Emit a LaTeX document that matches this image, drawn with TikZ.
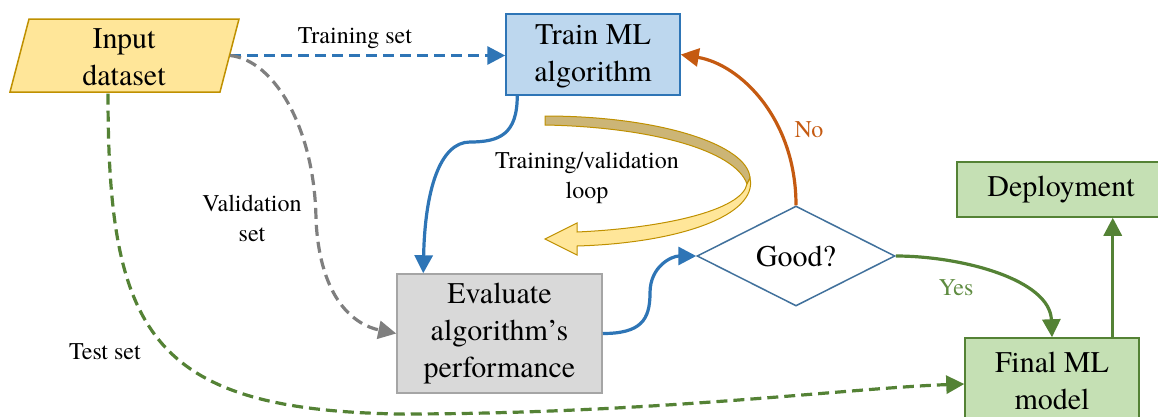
\documentclass[tikz,border=0pt]{standalone}
\usepackage{fontspec}
\setmainfont{TeX Gyre Termes}
\usetikzlibrary{arrows.meta,shapes.geometric}
\definecolor{inFill}{HTML}{FFE699}
\definecolor{inLine}{HTML}{BF9000}
\definecolor{trFill}{HTML}{BDD7EE}
\definecolor{trLine}{HTML}{2E75B6}
\definecolor{evFill}{HTML}{D9D9D9}
\definecolor{evLine}{HTML}{A5A5A5}
\definecolor{grayArr}{HTML}{7F7F7F}
\definecolor{dmLine}{HTML}{41719C}
\definecolor{orArr}{HTML}{C55A11}
\definecolor{gnFill}{HTML}{C5E0B4}
\definecolor{gnLine}{HTML}{548235}
\definecolor{yesCol}{HTML}{5F8C41}
\definecolor{tanFill}{HTML}{CCB576}
\begin{document}
\begin{tikzpicture}[x=1pt,y=-1pt,
  boxtext/.style={font=\fontsize{30}{37}\selectfont, align=center, inner sep=0pt},
  box/.style={boxtext, draw, line width=1.5pt, rectangle},
  lbl/.style={font=\fontsize{24}{30}\selectfont, align=center, inner sep=0pt},
  conn/.style={line width=3.2pt},
  tip/.style={-{Triangle[length=18pt,width=18pt]}},
  dsh/.style={dash pattern=on 11pt off 6pt},
]
\useasboundingbox (0,0) rectangle (1158,416);

% input parallelogram
\filldraw[fill=inFill, draw=inLine, line width=1.5pt] (29,19) -- (239,19) -- (220,92) -- (10,92) -- cycle;
\node[boxtext, minimum width=212pt, minimum height=73pt] (in) at (124,57) {Input\\dataset};

\node[box, fill=trFill, draw=trLine, minimum width=174pt, minimum height=81pt, text depth=2pt] (train) at (593,54.5) {Train ML\\algorithm};
\node[box, fill=evFill, draw=evLine, minimum width=205pt, minimum height=119pt] (eval) at (499.5,333.5) {Evaluate\\algorithm’s\\performance};
\node[boxtext, diamond, draw=dmLine, line width=1.5pt, fill=white, minimum width=198pt, minimum height=100pt, aspect=2] (good) at (796,256) {Good?};
\node[box, fill=gnFill, draw=gnLine, minimum width=208pt, minimum height=55pt] (dep) at (1061,189.5) {Deployment};
\node[box, fill=gnFill, draw=gnLine, minimum width=174pt, minimum height=86pt] (final) at (1052,381) {Final ML\\model};

% training/validation loop ribbon
\filldraw[fill=tanFill, draw=inLine, line width=1pt]
  (545,116) .. controls (660,116) and (748,145) .. (750,178)
  -- (747,184) .. controls (735,150) and (650,127) .. (545,125) -- cycle;
\filldraw[fill=inFill, draw=inLine, line width=1pt]
  (750,178) .. controls (758,215) and (680,243) .. (577,246)
  -- (577,255) -- (545,239) -- (577,223) -- (577,232)
  .. controls (665,228) and (742,210) .. (747,184) -- cycle;

% labels
\node[lbl] (lts) at (355,38) {Training set};
\node[lbl] (lvs) at (252,218) {Validation\\set};
\node[lbl] (lloop) at (587,178) {Training/validation\\loop};
\node[lbl] (ltest) at (105,352) {Test set};
\node[lbl, text=orArr] (lno) at (809,130) {No};
\node[lbl, text=yesCol] (lyes) at (956,288) {Yes};

% connectors
\draw[conn, dsh, trLine, tip] ([yshift=1.5pt]in.east) -- ([yshift=1.5pt]in.east -| train.west);
\draw[conn, dsh, grayArr, tip] ([yshift=1.5pt]in.east) .. controls +(45,5) and (315,130) .. (316,220)
  .. controls (320,300) and (355,325) .. (eval.west);
\draw[conn, dsh, gnLine, tip] ([xshift=-16pt]in.south) .. controls +(0,238) and (150,410) .. (400,414)
  .. controls (650,414) and (850,388) .. ([yshift=-3pt]final.west);
\draw[conn, trLine, tip] ([xshift=12pt]train.south west) .. controls +(0,38) and (500,142) .. (470,142)
  .. controls (440,142) and (425,190) .. ([xshift=27pt]eval.north west);
\draw[conn, trLine, tip] (eval.east) .. controls +(38,0) and (650,320) .. (650,293)
  .. controls (650,266) and (672,256) .. (good.west);
\draw[conn, orArr, tip] (good.north) .. controls +(0,-86) and +(60,10) .. (train.east);
\draw[conn, gnLine, tip] (good.east) .. controls +(65,0) and +(-2,-58) .. (final.north);
\draw[conn, gnLine, tip] ([xshift=-27pt]final.north east) -- ([xshift=-27pt]final.north east |- dep.south);
\end{tikzpicture}
\end{document}
